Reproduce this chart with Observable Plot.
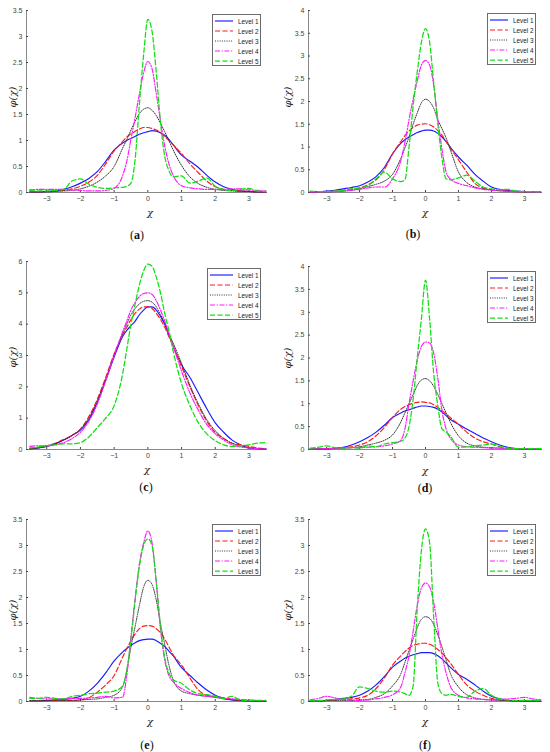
<!DOCTYPE html>
<html><head><meta charset="utf-8">
<script src="https://cdn.jsdelivr.net/npm/d3@7"></script>
<script src="https://cdn.jsdelivr.net/npm/@observablehq/plot@0.6"></script>
<style>
body{margin:0;background:#fff;}
#root{position:relative;width:550px;height:752px;overflow:hidden;background:#fff;}
.panel{position:absolute;width:275px;height:252px;}
.panel svg{position:absolute;left:0;top:0;}
.lbl{position:absolute;font-family:"DejaVu Serif",serif;font-style:italic;font-size:10px;color:#222;white-space:nowrap;transform:translate(-50%,-50%);}
.ylbl{transform:translate(-50%,-50%) rotate(-90deg);}
.cap{position:absolute;font-family:"Liberation Serif",serif;font-size:12px;color:#111;transform:translate(-50%,-50%);white-space:nowrap;}
.cap b{font-weight:bold;}
.leg{position:absolute;background:#fff;border:0.7px solid #6b6b6b;box-sizing:border-box;padding-top:1px;}
.leg .row{height:10px;display:flex;align-items:center;font-family:"Liberation Sans",Arial,sans-serif;font-size:6.4px;color:#222;}
.leg svg{position:static;}
</style></head>
<body><div id="root"></div>
<script>
const X = [-3.5,-3.25,-3,-2.75,-2.5,-2.25,-2,-1.75,-1.5,-1.25,-1,-0.75,-0.625,-0.5,-0.375,-0.25,-0.125,0,0.125,0.25,0.375,0.5,0.625,0.75,1,1.25,1.5,1.75,2,2.25,2.5,2.75,3,3.25,3.5];
const xTicks = [-3,-2,-1,0,1,2,3];
const levelNames = ["Level 1","Level 2","Level 3","Level 4","Level 5"];
const captions = ["a","b","c","d","e","f"];

// (a)
const a1 = [0.01,0.01,0.02,0.03,0.06,0.11,0.18,0.27,0.4,0.6,0.82,0.95,1.0,1.04,1.08,1.12,1.15,1.17,1.19,1.18,1.15,1.1,1.02,0.92,0.72,0.6,0.48,0.33,0.2,0.11,0.06,0.03,0.02,0.01,0.01];
const a2 = [0.01,0.01,0.02,0.03,0.04,0.07,0.12,0.2,0.33,0.55,0.8,0.98,1.07,1.13,1.18,1.22,1.25,1.25,1.23,1.2,1.15,1.08,1.0,0.92,0.75,0.55,0.38,0.22,0.11,0.06,0.04,0.03,0.02,0.01,0.01];
const a3 = [0.01,0.01,0.01,0.02,0.03,0.04,0.07,0.12,0.2,0.32,0.5,0.85,1.02,1.2,1.37,1.52,1.6,1.63,1.58,1.48,1.33,1.17,1.0,0.82,0.52,0.3,0.17,0.1,0.06,0.04,0.03,0.02,0.02,0.01,0.01];
const a4 = [0.05,0.06,0.06,0.06,0.06,0.05,0.04,0.03,0.03,0.04,0.08,0.32,0.6,1.03,1.45,1.9,2.3,2.52,2.38,1.9,1.38,0.9,0.55,0.33,0.13,0.09,0.07,0.06,0.06,0.06,0.07,0.07,0.05,0.04,0.03];
const a5 = [0.04,0.03,0.03,0.04,0.06,0.22,0.26,0.16,0.1,0.08,0.09,0.1,0.12,0.18,0.65,1.7,2.65,3.33,3.1,2.31,1.35,0.7,0.42,0.3,0.32,0.18,0.22,0.28,0.12,0.06,0.04,0.06,0.08,0.03,0.02];
// (b)
const b1 = [0.01,0.02,0.03,0.05,0.08,0.11,0.15,0.23,0.35,0.55,0.85,1.08,1.16,1.22,1.27,1.32,1.35,1.37,1.37,1.35,1.3,1.22,1.12,1.0,0.78,0.6,0.4,0.25,0.12,0.07,0.04,0.03,0.02,0.01,0.01];
const b2 = [0.01,0.01,0.02,0.03,0.05,0.07,0.1,0.17,0.28,0.5,0.85,1.12,1.25,1.35,1.43,1.48,1.5,1.51,1.49,1.44,1.36,1.26,1.12,0.98,0.72,0.45,0.2,0.1,0.06,0.04,0.03,0.02,0.01,0.01,0.01];
const b3 = [0.01,0.01,0.01,0.02,0.03,0.05,0.08,0.13,0.18,0.25,0.4,0.75,0.98,1.22,1.5,1.75,1.97,2.05,2.0,1.85,1.6,1.4,1.2,0.95,0.45,0.22,0.12,0.08,0.06,0.04,0.03,0.02,0.01,0.01,0.01];
const b4 = [0.01,0.01,0.02,0.02,0.03,0.05,0.07,0.1,0.12,0.12,0.3,0.7,1.1,1.6,2.05,2.45,2.8,2.9,2.8,2.35,1.6,0.95,0.45,0.3,0.2,0.15,0.1,0.07,0.05,0.04,0.03,0.02,0.02,0.01,0.01];
const b5 = [0.03,0.02,0.02,0.03,0.05,0.08,0.1,0.15,0.3,0.45,0.3,0.24,0.28,1.0,1.9,2.65,3.3,3.6,3.3,2.4,1.5,0.75,0.3,0.28,0.32,0.38,0.25,0.12,0.08,0.06,0.07,0.03,0.02,0.02,0.01];
// (c)
const c1 = [0.02,0.05,0.1,0.18,0.3,0.45,0.62,0.95,1.5,2.2,2.95,3.6,3.8,3.95,4.1,4.3,4.45,4.55,4.55,4.45,4.25,4.0,3.65,3.3,2.7,2.3,1.8,1.3,0.85,0.55,0.3,0.15,0.05,0.03,0.02];
const c2 = [0.03,0.06,0.12,0.2,0.32,0.45,0.65,1.05,1.6,2.3,3.05,3.65,3.9,4.15,4.35,4.48,4.55,4.55,4.5,4.35,4.15,3.9,3.6,3.3,2.65,2.0,1.4,0.9,0.55,0.35,0.2,0.15,0.1,0.05,0.02];
const c3 = [0.02,0.05,0.1,0.18,0.3,0.45,0.65,1.0,1.55,2.25,3.0,3.7,4.0,4.3,4.5,4.65,4.73,4.75,4.7,4.55,4.3,4.05,3.7,3.4,2.75,2.05,1.45,0.95,0.6,0.35,0.2,0.1,0.05,0.03,0.02];
const c4 = [0.1,0.12,0.12,0.15,0.22,0.35,0.55,0.9,1.45,2.2,3.0,3.75,4.1,4.45,4.7,4.88,4.98,5.0,4.95,4.75,4.45,4.1,3.7,3.3,2.5,1.8,1.25,0.8,0.5,0.3,0.15,0.08,0.05,0.03,0.02];
const c5 = [0.05,0.08,0.12,0.15,0.18,0.18,0.22,0.4,0.7,1.0,1.4,2.4,3.2,4.0,4.65,5.25,5.7,5.92,5.85,5.5,5.0,4.35,3.8,3.15,2.1,1.4,0.85,0.5,0.28,0.15,0.1,0.12,0.15,0.2,0.22];
// (d)
const d1 = [0.01,0.01,0.02,0.03,0.05,0.1,0.17,0.26,0.38,0.53,0.7,0.8,0.84,0.87,0.9,0.93,0.95,0.95,0.94,0.92,0.88,0.82,0.74,0.66,0.55,0.45,0.35,0.25,0.17,0.1,0.05,0.02,0.01,0.01,0.01];
const d2 = [0.01,0.01,0.02,0.03,0.04,0.06,0.1,0.17,0.3,0.48,0.7,0.88,0.94,0.98,1.01,1.03,1.04,1.03,1.02,0.98,0.92,0.85,0.78,0.7,0.55,0.38,0.25,0.17,0.12,0.06,0.03,0.02,0.01,0.01,0.01];
const d3s = [0.01,0.01,0.01,0.02,0.03,0.04,0.06,0.1,0.14,0.2,0.32,0.6,0.8,1.0,1.2,1.4,1.52,1.55,1.5,1.38,1.2,1.0,0.8,0.6,0.3,0.14,0.08,0.05,0.04,0.03,0.02,0.02,0.01,0.01,0.01];
const d4 = [0.01,0.01,0.02,0.02,0.03,0.04,0.04,0.05,0.06,0.08,0.12,0.2,0.45,1.0,1.5,1.95,2.25,2.35,2.33,2.1,1.55,0.85,0.45,0.25,0.1,0.06,0.05,0.04,0.03,0.03,0.02,0.02,0.02,0.01,0.01];
const d5 = [0.03,0.05,0.08,0.04,0.03,0.04,0.03,0.08,0.06,0.12,0.15,0.18,0.25,0.5,1.1,2.0,2.85,3.7,2.85,1.65,0.95,0.45,0.38,0.3,0.05,0.06,0.08,0.1,0.12,0.07,0.03,0.02,0.02,0.02,0.02];
// (e)
const e1 = [0.01,0.01,0.02,0.03,0.04,0.06,0.1,0.2,0.35,0.55,0.78,0.95,1.02,1.08,1.13,1.17,1.19,1.2,1.2,1.17,1.12,1.06,0.97,0.88,0.65,0.5,0.35,0.22,0.12,0.06,0.03,0.02,0.01,0.01,0.01];
const e2 = [0.01,0.01,0.01,0.02,0.02,0.02,0.03,0.07,0.18,0.32,0.5,0.85,1.02,1.17,1.3,1.4,1.45,1.46,1.45,1.4,1.32,1.2,1.05,0.9,0.7,0.45,0.22,0.12,0.1,0.07,0.04,0.02,0.01,0.01,0.01];
const e3 = [0.02,0.02,0.02,0.02,0.02,0.02,0.03,0.04,0.05,0.08,0.12,0.28,0.6,1.05,1.45,1.85,2.2,2.33,2.25,1.95,1.5,1.1,0.7,0.42,0.2,0.15,0.12,0.1,0.08,0.05,0.03,0.02,0.02,0.01,0.01];
const e4 = [0.08,0.06,0.05,0.05,0.05,0.06,0.06,0.07,0.08,0.1,0.07,0.08,0.5,1.25,2.0,2.65,3.05,3.28,3.05,2.3,1.4,0.8,0.5,0.38,0.25,0.17,0.12,0.1,0.08,0.06,0.05,0.04,0.03,0.02,0.02];
const e5 = [0.06,0.06,0.08,0.06,0.05,0.1,0.12,0.15,0.16,0.18,0.2,0.3,0.6,1.2,1.95,2.6,3.0,3.13,3.0,2.3,1.45,0.85,0.55,0.42,0.35,0.22,0.15,0.13,0.1,0.06,0.1,0.03,0.02,0.02,0.02];
// (f)
const f1 = [0.01,0.01,0.02,0.04,0.06,0.08,0.12,0.2,0.32,0.48,0.66,0.78,0.83,0.87,0.9,0.92,0.94,0.94,0.94,0.92,0.88,0.82,0.74,0.66,0.52,0.43,0.32,0.2,0.1,0.05,0.02,0.01,0.01,0.01,0.01];
const f2 = [0.01,0.01,0.02,0.03,0.04,0.05,0.07,0.12,0.25,0.45,0.7,0.88,0.96,1.03,1.08,1.1,1.12,1.12,1.1,1.06,1.0,0.93,0.84,0.74,0.52,0.32,0.2,0.12,0.06,0.03,0.02,0.02,0.01,0.01,0.01];
const f3 = [0.02,0.02,0.02,0.02,0.02,0.02,0.03,0.04,0.08,0.15,0.3,0.53,0.75,0.98,1.2,1.42,1.58,1.63,1.6,1.48,1.28,1.05,0.8,0.55,0.28,0.13,0.07,0.04,0.03,0.02,0.02,0.02,0.01,0.01,0.01];
const f4 = [0.03,0.06,0.1,0.07,0.04,0.03,0.02,0.03,0.05,0.08,0.13,0.28,0.55,0.88,1.35,1.85,2.18,2.28,2.2,1.9,1.4,0.9,0.55,0.3,0.12,0.07,0.05,0.04,0.03,0.04,0.05,0.06,0.08,0.05,0.03];
const f5 = [0.02,0.02,0.03,0.04,0.05,0.1,0.28,0.25,0.2,0.18,0.2,0.18,0.15,0.12,0.3,1.8,2.9,3.32,3.05,1.6,0.35,0.15,0.12,0.14,0.1,0.08,0.2,0.25,0.12,0.05,0.03,0.02,0.02,0.02,0.02];

const yTicksA = [0,0.5,1,1.5,2,2.5,3,3.5];
const yTicksB = [0,0.5,1,1.5,2,2.5,3,3.5,4];
const yTicksC = [0,1,2,3,4,5,6];
const yMax = [3.5, 4, 6, 4, 3.5, 3.5];
const yTicks = [yTicksA, yTicksB, yTicksC, yTicksB, yTicksA, yTicksA];
const seriesByPanel = [[a1,a2,a3,a4,a5],[b1,b2,b3,b4,b5],[c1,c2,c3,c4,c5],[d1,d2,d3s,d4,d5],[e1,e2,e3,e4,e5],[f1,f2,f3,f4,f5]];

// layout (pixels) and styles
const layout = [
  {left:0,   top:0,   ml:26, mr:8, mt:10, pb:192, xdom:[-3.6,3.55], cap:[137,235], xl:[150,212], yl:[12,97],  leg:[212,14,49]},
  {left:275, top:0,   ml:33, mr:8, mt:10, pb:192, xdom:[-3.55,3.55], cap:[413,234], xl:[425,212], yl:[287,97], leg:[487,13,49]},
  {left:0,   top:250, ml:26, mr:8, mt:11, pb:199, xdom:[-3.6,3.55], cap:[146,487], xl:[147,469], yl:[12,357], leg:[207,268,54]},
  {left:275, top:250, ml:33, mr:8, mt:16, pb:199, xdom:[-3.55,3.55], cap:[425,488], xl:[425,470], yl:[287,358], leg:[487,271,49]},
  {left:0,   top:500, ml:26, mr:8, mt:19, pb:201, xdom:[-3.6,3.55], cap:[147,745], xl:[150,721], yl:[12,610], leg:[212,524,49]},
  {left:275, top:500, ml:33, mr:8, mt:19, pb:201, xdom:[-3.55,3.55], cap:[425,745], xl:[425,721], yl:[287,610], leg:[487,524,49]}
];
const styles = [
  {stroke:"#1a1aff", dash:null, w:1.15},
  {stroke:"#ff1a1a", dash:"5,2.5", w:1.15},
  {stroke:"#333333", dash:"1,1.3", w:1},
  {stroke:"#ff1aff", dash:"5,1.6,1.2,1.6", w:1.15},
  {stroke:"#10e010", dash:"5,2.5", w:1.25}
];

const root = document.getElementById("root");
const fmtX = d => d < 0 ? "\u2212" + Math.abs(d) : String(d);
const fmtY = d => String(d);

layout.forEach((L, p) => {
  const div = document.createElement("div");
  div.className = "panel";
  div.style.left = L.left + "px";
  div.style.top = L.top + "px";
  root.appendChild(div);

  const H = L.pb + 18;
  const data = [];
  seriesByPanel[p].forEach((ys, k) => ys.forEach((y, i) => data.push({x: X[i], y, k})));

  const marks = [
    Plot.ruleY([0], {stroke:"#6a6a6a", strokeWidth:0.8}),
    Plot.ruleX([L.xdom[0]], {stroke:"#6a6a6a", strokeWidth:0.8}),
    Plot.axisX({ticks:xTicks, tickSize:-2, tickPadding:6, tickFormat:fmtX, label:null, fontSize:7, color:"#454545"}),
    Plot.axisY({ticks:yTicks[p], tickSize:-2, tickPadding:6, tickFormat:fmtY, label:null, fontSize:7, color:"#454545"})
  ];
  styles.forEach((s, k) => {
    marks.push(Plot.line(data.filter(d => d.k === k), {
      x:"x", y:"y", stroke:s.stroke, strokeWidth:s.w,
      strokeDasharray: s.dash || undefined, curve:"monotone-x"
    }));
  });

  const svg = Plot.plot({
    width:275, height:H,
    marginLeft:L.ml, marginRight:L.mr, marginTop:L.mt, marginBottom:H - L.pb,
    style:{fontFamily:"'Liberation Sans', Arial, sans-serif", fontSize:"7px", background:"transparent", overflow:"visible"},
    x:{domain:L.xdom},
    y:{domain:[0, yMax[p]]},
    marks
  });
  div.appendChild(svg);

  const xl = document.createElement("div");
  xl.className = "lbl"; xl.textContent = "\u03C7";
  xl.style.left = (L.xl[0] - L.left) + "px"; xl.style.top = (L.xl[1] - L.top) + "px";
  div.appendChild(xl);
  const yl = document.createElement("div");
  yl.className = "lbl ylbl"; yl.textContent = "\u03C6(\u03C7)";
  yl.style.left = (L.yl[0] - L.left) + "px"; yl.style.top = (L.yl[1] - L.top) + "px";
  div.appendChild(yl);

  const cap = document.createElement("div");
  cap.className = "cap";
  cap.innerHTML = "(<b>" + captions[p] + "</b>)";
  cap.style.left = (L.cap[0] - L.left) + "px"; cap.style.top = (L.cap[1] - L.top) + "px";
  div.appendChild(cap);

  const lg = document.createElement("div");
  lg.className = "leg";
  lg.style.left = (L.leg[0] - L.left) + "px"; lg.style.top = (L.leg[1] - L.top) + "px";
  lg.style.width = L.leg[2] + "px"; lg.style.height = "52px";
  const lineLen = L.leg[2] - 31;
  styles.forEach((s, k) => {
    const row = document.createElement("div");
    row.className = "row";
    row.innerHTML = `<svg width="${lineLen + 6}" height="10"><line x1="2" x2="${lineLen + 2}" y1="5" y2="5" stroke="${s.stroke}" stroke-width="${s.w}" ${s.dash ? `stroke-dasharray="${s.dash}"` : ""}/></svg><span style="margin-left:1px">${levelNames[k]}</span>`;
    lg.appendChild(row);
  });
  div.appendChild(lg);
});
</script>
</body></html>
